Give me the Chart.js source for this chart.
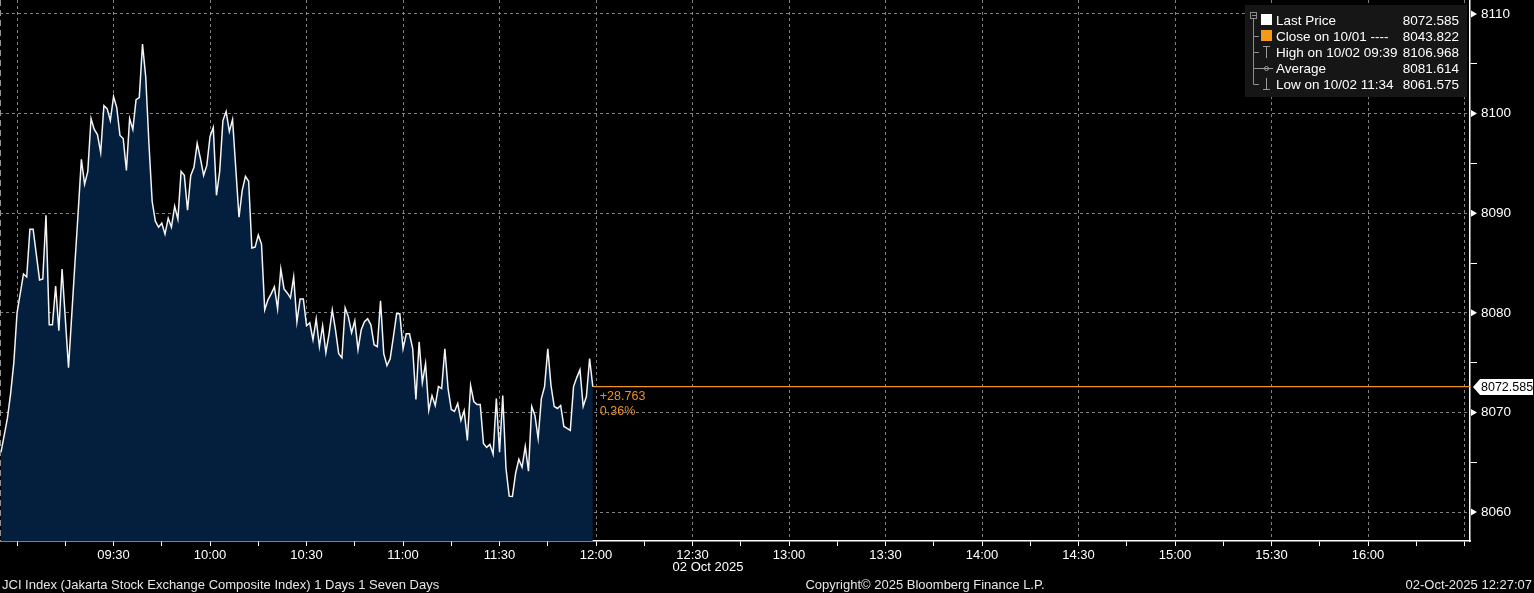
<!DOCTYPE html>
<html>
<head>
<meta charset="utf-8">
<script src="https://cdn.jsdelivr.net/npm/chart.js@4.4.1/dist/chart.umd.min.js"></script>
<style>
    html, body { margin: 0; padding: 0; background: #000; }
    #wrap { width: 1534px; height: 593px; }
</style>
</head>
<body>
<div id="wrap"><canvas id="chart" width="1534" height="593"></canvas></div>
<script>
// JCI intraday, 02 Oct 2025
const times = [
    '08:55', '08:57', '08:58', '08:59', '09:00', '09:02', '09:03', '09:04', '09:05', '09:07',
    '09:08', '09:09', '09:10', '09:11', '09:12', '09:13', '09:14', '09:16', '09:18', '09:19',
    '09:20', '09:21', '09:22', '09:23', '09:24', '09:25', '09:26', '09:27', '09:28', '09:29',
    '09:30', '09:31', '09:32', '09:33', '09:34', '09:35', '09:36', '09:37', '09:38', '09:39',
    '09:40', '09:41', '09:42', '09:43', '09:44', '09:45', '09:46', '09:47', '09:48', '09:49',
    '09:50', '09:51', '09:52', '09:53', '09:54', '09:55', '09:56', '09:57', '09:58', '09:59',
    '10:00', '10:01', '10:02', '10:03', '10:04', '10:05', '10:06', '10:07', '10:09', '10:10',
    '10:11', '10:12', '10:13', '10:14', '10:15', '10:16', '10:17', '10:18', '10:19', '10:20',
    '10:21', '10:22', '10:23', '10:24', '10:25', '10:26', '10:27', '10:28', '10:29', '10:30',
    '10:31', '10:32', '10:33', '10:34', '10:35', '10:36', '10:37', '10:38', '10:39', '10:40',
    '10:41', '10:42', '10:43', '10:44', '10:45', '10:46', '10:47', '10:48', '10:49', '10:50',
    '10:51', '10:52', '10:53', '10:54', '10:55', '10:56', '10:57', '10:58', '10:59', '11:00',
    '11:01', '11:02', '11:03', '11:04', '11:05', '11:06', '11:07', '11:08', '11:09', '11:10',
    '11:11', '11:12', '11:13', '11:14', '11:15', '11:16', '11:17', '11:18', '11:19', '11:20',
    '11:21', '11:22', '11:23', '11:24', '11:25', '11:26', '11:27', '11:28', '11:29', '11:30',
    '11:31', '11:32', '11:33', '11:34', '11:35', '11:36', '11:37', '11:38', '11:39', '11:40',
    '11:41', '11:42', '11:43', '11:44', '11:45', '11:46', '11:47', '11:48', '11:49', '11:50',
    '11:51', '11:52', '11:53', '11:54', '11:55', '11:56', '11:57', '11:58', '11:59'
];
const prices = [
    8066.0, 8069.4, 8071.9, 8075.0, 8080.0, 8083.9, 8083.6, 8088.4, 8088.4, 8083.3,
    8083.4, 8089.8, 8078.8, 8078.8, 8082.7, 8078.2, 8084.4, 8074.5, 8085.0, 8090.1,
    8095.4, 8092.9, 8094.2, 8099.5, 8098.4, 8097.9, 8096.1, 8100.8, 8100.5, 8099.3,
    8101.7, 8100.6, 8097.8, 8097.5, 8094.3, 8099.5, 8098.4, 8101.4, 8101.6, 8106.968,
    8103.7, 8097.0, 8091.2, 8089.2, 8088.6, 8089.0, 8087.9, 8089.5, 8088.6, 8090.7,
    8089.4, 8094.2, 8093.8, 8090.3, 8093.8, 8094.6, 8097.0, 8095.5, 8093.8, 8094.8,
    8097.7, 8098.6, 8091.8, 8094.2, 8099.3, 8100.2, 8098.2, 8099.4, 8089.6, 8092.3,
    8093.7, 8093.2, 8086.5, 8086.6, 8087.8, 8086.9, 8080.3, 8081.3, 8081.9, 8082.6,
    8080.4, 8084.4, 8082.4, 8082.0, 8081.5, 8083.6, 8079.1, 8081.4, 8081.4, 8078.7,
    8079.0, 8077.3, 8079.4, 8076.6, 8078.7, 8076.0, 8077.9, 8080.3, 8078.3, 8075.9,
    8075.5, 8080.5, 8079.6, 8078.0, 8079.2, 8076.3, 8078.3, 8079.1, 8079.4, 8078.8,
    8076.8, 8076.6, 8081.2, 8075.9, 8074.7, 8075.4, 8077.6, 8079.9, 8079.9, 8076.4,
    8077.9, 8077.9, 8076.4, 8071.3, 8077.1, 8073.0, 8074.9, 8070.2, 8071.7, 8070.7,
    8072.6, 8072.4, 8076.4, 8072.4, 8070.3, 8070.1, 8070.9, 8069.2, 8070.2, 8067.2,
    8072.7, 8071.1, 8070.8, 8070.8, 8066.9, 8066.5, 8066.8, 8065.8, 8071.4, 8066.0,
    8071.7, 8064.4, 8061.6, 8061.575, 8063.9, 8065.3, 8064.5, 8066.6, 8064.1, 8070.6,
    8069.7, 8067.4, 8071.4, 8072.6, 8076.4, 8072.7, 8070.6, 8070.4, 8070.7, 8068.6,
    8068.4, 8068.2, 8072.6, 8073.5, 8074.3, 8070.6, 8071.6, 8075.4, 8072.585
];

const lastPrice = 8072.585;
const netChange = '+28.763';
const pctChange = '0.36%';

const legendNames = ['Last Price', 'Close on 10/01 ----', 'High on 10/02 09:39', 'Average', 'Low on 10/02 11:34'];
const legendValues = ['8072.585', '8043.822', '8106.968', '8081.614', '8061.575'];

const xTickLabels = ['09:30', '10:00', '10:30', '11:00', '11:30', '12:00', '12:30', '13:00',
    '13:30', '14:00', '14:30', '15:00', '15:30', '16:00'];
const yTickLabels = [8060, 8070, 8080, 8090, 8100, 8110];

const footerLeft = 'JCI Index (Jakarta Stock Exchange Composite Index) 1 Days 1 Seven Days';
const footerMid = 'Copyright\u00a9 2025 Bloomberg Finance L.P.';
const footerRight = '02-Oct-2025 12:27:07';
const dateLabel = '02 Oct 2025';

const FONT = '"Liberation Sans", Arial, sans-serif';
const ORANGE = '#f0921e';
const GRID = 'rgba(150,150,150,0.85)';

function toMin(t) {
    const [h, m] = t.split(':').map(Number);
    return h * 60 + m;
}
function fmtMin(v) {
    const h = Math.floor(v / 60), m = v % 60;
    return String(h).padStart(2, '0') + ':' + String(m).padStart(2, '0');
}

const xMin = 534.7;
const xMax = 991.7;
const yMin = 8057.1;
const yMax = 8111.4;

const series = times.map((t, i) => ({ x: toMin(t), y: prices[i] }));
const lastX = toMin(times[times.length - 1]);

// everything the library can't do on its own: legend box, price tag, footer
const bloombergDecor = {
    id: 'bloombergDecor',
    beforeDraw(chart) {
        const ctx = chart.ctx;
        ctx.save();
        ctx.fillStyle = '#000';
        ctx.fillRect(0, 0, chart.width, chart.height);
        ctx.restore();
    },
    afterDraw(chart) {
        const ctx = chart.ctx;
        const area = chart.chartArea;
        const yScale = chart.scales.y;
        const xScale = chart.scales.x;
        ctx.save();

        // left dashed edge
        ctx.strokeStyle = 'rgba(160,160,160,0.9)';
        ctx.lineWidth = 1;
        ctx.setLineDash([6, 4]);
        ctx.beginPath();
        ctx.moveTo(area.left + 0.5, area.top);
        ctx.lineTo(area.left + 0.5, area.bottom);
        ctx.stroke();
        ctx.setLineDash([]);

        // arrow markers on major y ticks
        ctx.fillStyle = '#fff';
        yTickLabels.forEach(v => {
            const y = yScale.getPixelForValue(v);
            ctx.beginPath();
            ctx.moveTo(area.right + 1, y - 3.5);
            ctx.lineTo(area.right + 7, y);
            ctx.lineTo(area.right + 1, y + 3.5);
            ctx.closePath();
            ctx.fill();
        });

        // last price tag
        const ly = Math.round(yScale.getPixelForValue(lastPrice));
        ctx.fillStyle = '#fff';
        ctx.beginPath();
        ctx.moveTo(area.right + 3, ly);
        ctx.lineTo(area.right + 10, ly - 8);
        ctx.lineTo(1533, ly - 8);
        ctx.lineTo(1533, ly + 8);
        ctx.lineTo(area.right + 10, ly + 8);
        ctx.closePath();
        ctx.fill();
        ctx.fillStyle = '#000';
        ctx.font = '12.5px ' + FONT;
        ctx.textAlign = 'left';
        ctx.textBaseline = 'middle';
        ctx.fillText(lastPrice.toFixed(3), area.right + 11, ly + 1);

        // change annotation
        const ax = xScale.getPixelForValue(lastX) + 7;
        ctx.fillStyle = ORANGE;
        ctx.font = '12.5px ' + FONT;
        ctx.fillText(netChange, ax, ly + 10);
        ctx.fillText(pctChange, ax, ly + 25);

        // legend box
        const bx = 1245, by = 5, bw = 222, bh = 92;
        ctx.fillStyle = 'rgb(22,22,22)';
        ctx.fillRect(bx, by, bw, bh);
        const rows = [20, 36, 52, 68, 84];
        const treeX = 1253.5;
        ctx.strokeStyle = '#8c8c8c';
        ctx.lineWidth = 1;
        ctx.strokeRect(1250.5, 12.5, 6, 6);
        ctx.beginPath();
        ctx.moveTo(1252, 15.5); ctx.lineTo(1256, 15.5);
        ctx.moveTo(treeX, 19); ctx.lineTo(treeX, rows[4] + 0.5);
        rows.slice(1).forEach(r => {
            ctx.moveTo(treeX, r + 0.5); ctx.lineTo(1259, r + 0.5);
        });
        ctx.stroke();

        // icons
        ctx.fillStyle = '#fff';
        ctx.fillRect(1261, rows[0] - 6, 11, 11);
        ctx.fillStyle = '#f39a1a';
        ctx.fillRect(1261, rows[1] - 6, 11, 11);
        ctx.strokeStyle = '#9a9a9a';
        ctx.beginPath();
        ctx.moveTo(1266.5, rows[2] - 6); ctx.lineTo(1266.5, rows[2] + 6);
        ctx.moveTo(1263, rows[2] - 5.5); ctx.lineTo(1270, rows[2] - 5.5);
        ctx.moveTo(1259, rows[3] + 0.5); ctx.lineTo(1273, rows[3] + 0.5);
        ctx.moveTo(1266.5, rows[4] - 6); ctx.lineTo(1266.5, rows[4] + 6);
        ctx.moveTo(1263, rows[4] + 5.5); ctx.lineTo(1270, rows[4] + 5.5);
        ctx.stroke();
        ctx.beginPath();
        ctx.arc(1266.5, rows[3] + 0.5, 2, 0, Math.PI * 2);
        ctx.stroke();

        ctx.fillStyle = '#fff';
        ctx.font = '13.5px ' + FONT;
        ctx.textBaseline = 'middle';
        legendNames.forEach((name, i) => {
            ctx.textAlign = 'left';
            ctx.fillText(name, 1276, rows[i] + 1);
            ctx.textAlign = 'right';
            ctx.fillText(legendValues[i], 1459, rows[i] + 1);
        });

        // date under the axis and footer line
        ctx.fillStyle = '#fff';
        ctx.font = '13px ' + FONT;
        ctx.textAlign = 'center';
        ctx.fillText(dateLabel, 708, 567);
        ctx.fillStyle = '#e6e6e6';
        ctx.textAlign = 'left';
        ctx.fillText(footerLeft, 2, 585);
        ctx.textAlign = 'center';
        ctx.fillText(footerMid, 925, 585);
        ctx.textAlign = 'right';
        ctx.fillText(footerRight, 1532, 585);

        ctx.restore();
    }
};

const xTickValues = [];
for (let v = 540; v <= 990; v += 15) xTickValues.push(v);
const yTickValues = [];
for (let v = 8060; v <= 8110; v += 5) yTickValues.push(v);

new Chart(document.getElementById('chart'), {
    type: 'line',
    data: {
        datasets: [
            {
                label: 'Last Price',
                data: series,
                borderColor: '#f4f4f4',
                borderWidth: 1.5,
                backgroundColor: '#031f3d',
                fill: 'start',
                pointRadius: 0,
                tension: 0
            },
            {
                label: 'Last',
                data: [{ x: lastX, y: lastPrice }, { x: xMax, y: lastPrice }],
                borderColor: ORANGE,
                backgroundColor: ORANGE,
                borderWidth: 1.2,
                pointRadius: 0,
                fill: false
            }
        ]
    },
    options: {
        responsive: false,
        animation: false,
        layout: { padding: 0 },
        plugins: {
            legend: { display: false },
            tooltip: { enabled: false }
        },
        scales: {
            x: {
                type: 'linear',
                min: xMin,
                max: xMax,
                afterBuildTicks: s => { s.ticks = xTickValues.map(v => ({ value: v })); },
                afterFit: s => { s.height = 52; s.paddingLeft = 0; s.paddingRight = 0; },
                ticks: {
                    autoSkip: false,
                    maxRotation: 0,
                    color: '#fff',
                    padding: 2,
                    font: { family: FONT, size: 13 },
                    callback: v => (xTickLabels.includes(fmtMin(v)) ? fmtMin(v) : '')
                },
                grid: {
                    color: c => (c.tick && c.tick.value % 30 === 0 ? GRID : 'transparent'),
                    tickColor: '#fff',
                    tickLength: 5,
                    lineWidth: 1
                },
                border: { display: true, color: '#fff', width: 1.5, dash: [3, 3] }
            },
            y: {
                position: 'right',
                min: yMin,
                max: yMax,
                afterBuildTicks: s => { s.ticks = yTickValues.map(v => ({ value: v })); },
                afterFit: s => { s.width = 64; s.paddingTop = 0; s.paddingBottom = 0; },
                ticks: {
                    color: '#fff',
                    padding: 4,
                    font: { family: FONT, size: 13.5 },
                    callback: v => (yTickLabels.includes(v) ? String(v) : '')
                },
                grid: {
                    color: c => (c.tick && c.tick.value % 10 === 0 ? GRID : 'transparent'),
                    tickColor: c => (c.tick && c.tick.value % 10 === 0 ? 'transparent' : '#fff'),
                    tickLength: 7,
                    lineWidth: 1
                },
                border: { display: true, color: '#fff', width: 1.5, dash: [3, 3] }
            }
        }
    },
    plugins: [bloombergDecor]
});
</script>
</body>
</html>
